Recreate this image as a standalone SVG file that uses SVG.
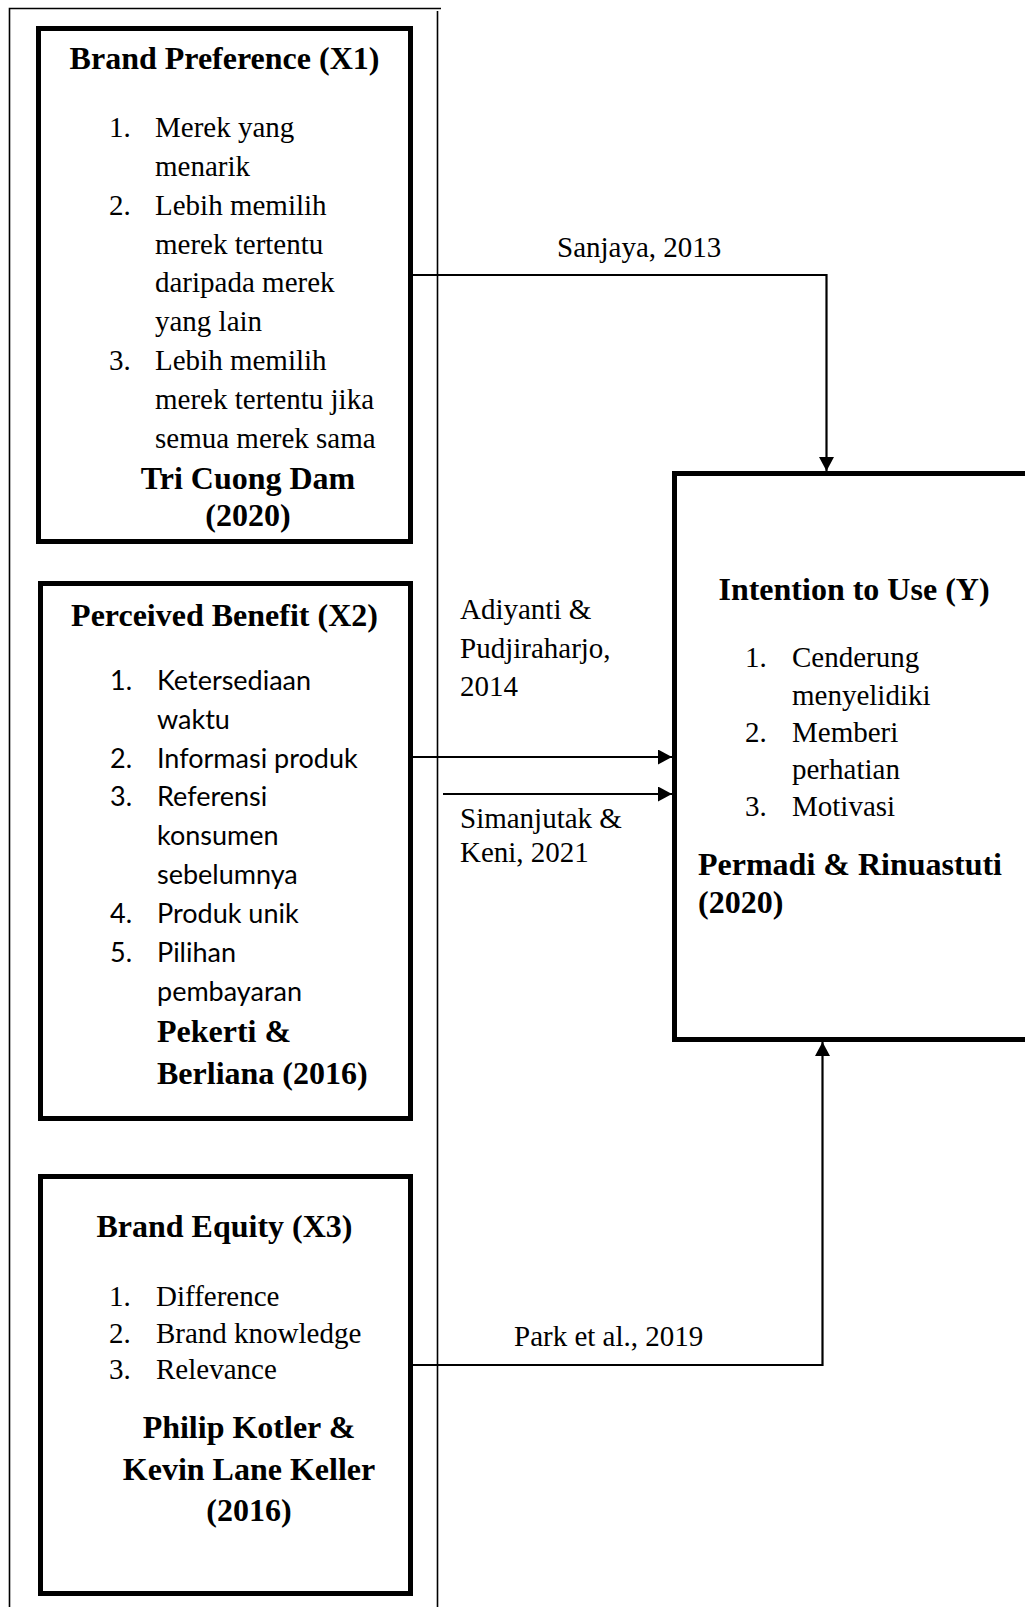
<svg xmlns="http://www.w3.org/2000/svg" width="1025" height="1607" viewBox="0 0 1025 1607">
<style>
.box{fill:#fff;stroke:#000;stroke-width:5}
.frame{fill:none;stroke:#000;stroke-width:1.6}
.conn{fill:none;stroke:#000;stroke-width:2.2}
.t{font-family:"Liberation Serif","Times New Roman",serif;font-size:29px;fill:#000}
.b{font-family:"Liberation Serif","Times New Roman",serif;font-size:32px;font-weight:bold;fill:#000}
.s{font-family:Lato,"Open Sans",sans-serif;font-size:27px;fill:#000}
.c{text-anchor:middle}
</style>
<defs>
<marker id="ah" viewBox="0 0 14 15" refX="14" refY="7.5" markerWidth="14" markerHeight="15" markerUnits="userSpaceOnUse" orient="auto">
<path d="M0,0 L14,7.5 L0,15 Z" fill="#000"/>
</marker>
</defs>
<rect width="1025" height="1607" fill="#fff"/>
<g id="frame">
<path class="frame" d="M9.5,1607 V8.5 H441 M437.5,11 V1607"/>
</g>
<g id="connectors">
<path class="conn" d="M413,275 H826.5 V471" marker-end="url(#ah)"/>
<path class="conn" d="M413,757 H672" marker-end="url(#ah)"/>
<path class="conn" d="M443,794 H672" marker-end="url(#ah)"/>
<path class="conn" d="M413,1365 H822.5 V1042" marker-end="url(#ah)"/>
</g>
<g id="labels">
<text class="t" x="557" y="257">Sanjaya, 2013</text>
<text class="t" x="460" y="619">Adiyanti &amp;</text>
<text class="t" x="460" y="658">Pudjiraharjo,</text>
<text class="t" x="460" y="696">2014</text>
<text class="t" x="460" y="828">Simanjutak &amp;</text>
<text class="t" x="460" y="862">Keni, 2021</text>
<text class="t" x="514" y="1346">Park et al., 2019</text>
</g>
<g id="x1">
<rect class="box" x="38.5" y="28.5" width="372" height="513"/>
<text class="b c" x="224.5" y="69">Brand Preference (X1)</text>
<text class="t" x="109" y="137">1.</text><text class="t" x="155" y="137">Merek yang</text>
<text class="t" x="155" y="176">menarik</text>
<text class="t" x="109" y="215">2.</text><text class="t" x="155" y="215">Lebih memilih</text>
<text class="t" x="155" y="254">merek tertentu</text>
<text class="t" x="155" y="292">daripada merek</text>
<text class="t" x="155" y="331">yang lain</text>
<text class="t" x="109" y="370">3.</text><text class="t" x="155" y="370">Lebih memilih</text>
<text class="t" x="155" y="409">merek tertentu jika</text>
<text class="t" x="155" y="448">semua merek sama</text>
<text class="b c" x="248" y="489">Tri Cuong Dam</text>
<text class="b c" x="248" y="526">(2020)</text>
</g>
<g id="x2">
<rect class="box" x="40.5" y="583.5" width="370" height="535"/>
<text class="b c" x="224.5" y="626">Perceived Benefit (X2)</text>
<text class="s" x="110" y="690">1.</text><text class="s" x="157" y="690">Ketersediaan</text>
<text class="s" x="157" y="729">waktu</text>
<text class="s" x="110" y="768">2.</text><text class="s" x="157" y="768">Informasi produk</text>
<text class="s" x="110" y="806">3.</text><text class="s" x="157" y="806">Referensi</text>
<text class="s" x="157" y="845">konsumen</text>
<text class="s" x="157" y="884">sebelumnya</text>
<text class="s" x="110" y="923">4.</text><text class="s" x="157" y="923">Produk unik</text>
<text class="s" x="110" y="962">5.</text><text class="s" x="157" y="962">Pilihan</text>
<text class="s" x="157" y="1001">pembayaran</text>
<text class="b" x="157" y="1042">Pekerti &amp;</text>
<text class="b" x="157" y="1084">Berliana (2016)</text>
</g>
<g id="x3">
<rect class="box" x="40.5" y="1176.5" width="370" height="417"/>
<text class="b c" x="224.5" y="1237">Brand Equity (X3)</text>
<text class="t" x="109" y="1306">1.</text><text class="t" x="156" y="1306">Difference</text>
<text class="t" x="109" y="1343">2.</text><text class="t" x="156" y="1343">Brand knowledge</text>
<text class="t" x="109" y="1379">3.</text><text class="t" x="156" y="1379">Relevance</text>
<text class="b c" x="249" y="1438">Philip Kotler &amp;</text>
<text class="b c" x="249" y="1480">Kevin Lane Keller</text>
<text class="b c" x="249" y="1521">(2016)</text>
</g>
<g id="y">
<rect class="box" x="674.5" y="473.5" width="400" height="566"/>
<text class="b c" x="854" y="600">Intention to Use (Y)</text>
<text class="t" x="745" y="667">1.</text><text class="t" x="792" y="667">Cenderung</text>
<text class="t" x="792" y="705">menyelidiki</text>
<text class="t" x="745" y="742">2.</text><text class="t" x="792" y="742">Memberi</text>
<text class="t" x="792" y="779">perhatian</text>
<text class="t" x="745" y="816">3.</text><text class="t" x="792" y="816">Motivasi</text>
<text class="b" x="698" y="875">Permadi &amp; Rinuastuti</text>
<text class="b" x="698" y="913">(2020)</text>
</g>
</svg>
